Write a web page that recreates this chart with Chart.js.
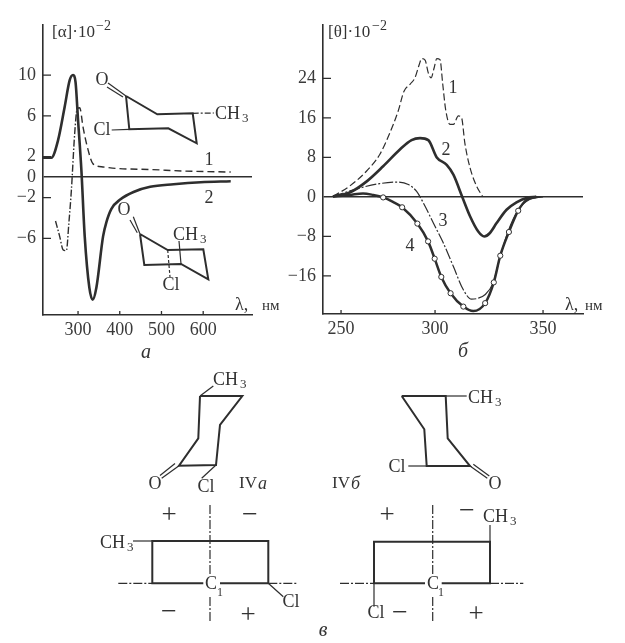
<!DOCTYPE html>
<html><head><meta charset="utf-8">
<script src="https://cdn.jsdelivr.net/npm/chart.js@4"></script>
<style>
html,body{margin:0;padding:0;background:#fff;width:625px;height:643px;overflow:hidden}
canvas{position:absolute;display:block;filter:blur(0.35px)}
</style></head><body>
<canvas id="a" width="300" height="360" style="left:0;top:0"></canvas>
<canvas id="b" width="345" height="360" style="left:280px;top:0"></canvas>
<canvas id="c" width="625" height="643" style="left:0;top:0"></canvas>
<script>
const INK='#2e2e2e';
const FONT='"Liberation Serif","DejaVu Serif",serif';

// Panel a: optical rotatory dispersion
const aTicksX=[300,400,500,600];
const aTicksY=[10,6,2,0,-2,-6];
const aCurve1Nm=[246,256,264,272,278,284,292,298,304,312,322,336,360,393,473,553,666];
const aCurve1Val=[-4.3,-5.8,-7.1,-7.2,-4.5,-1.3,4.3,6.7,6.8,4.9,3.0,1.3,1.0,0.85,0.75,0.6,0.5];
const aCurve2Nm=[216,236,252,268,280,288,294,300,308,316,327,335,344,360,368,380,401,433,473,529,594,666];
const aCurve2Val=[1.9,1.9,3.6,6.9,9.5,10,9.3,5.6,0.7,-5.8,-10.8,-12,-10.8,-5.8,-4.4,-3.1,-2.2,-1.45,-0.95,-0.7,-0.5,-0.4];

// Panel b: circular dichroism
const bTicksX=[250,300,350];
const bTicksY=[24,16,8,0,-8,-16];
const bCurve1Nm=[245.7,254.6,263.5,270.6,276,280.4,283.5,286.7,289.3,291.6,292.9,294.7,296.4,297.9,299.5,300.8,302.3,303.5,304.9,306.9,308.5,310.8,312.3,313.8,316.2,319.2,322];
const bCurve1Val=[0.1,2.2,5.2,8.6,13,17.4,21.4,22.8,24.1,26.8,28,27.7,25.1,24.1,26.1,28,27.8,23.1,17.7,14.7,14.7,16.4,16,10.9,5.9,2.2,0.1];
const bCurve2Nm=[245.7,254.6,263.5,272.4,281.3,287.5,292,296.4,300.8,305.4,308.5,312.6,316.2,320,322.8,325.4,328.5,333.1,337.7,342.3,346.9];
const bCurve2Val=[0.1,0.9,3.1,6.2,9.6,11.5,11.9,11.5,8,6.5,4.5,0,-3.9,-7,-8,-7.3,-5.3,-2.6,-1.1,-0.2,0];
const bCurve3Nm=[245.7,260,270.6,280.4,285.8,290.2,294.7,299.1,303.8,308.5,313.1,316.9,320,323.1,326.9,330,333.8,338.5,343.8,350];
const bCurve3Val=[0.1,1.8,2.7,3,2.5,1.1,-1.9,-5.3,-9.3,-14.1,-18.8,-20.7,-20.5,-19.8,-17.4,-12.4,-7,-2.6,-0.5,0];
const bCurve4Nm=[245.7,254.6,261.7,267.1,272.4,277.6,282.5,290.6,296.3,299.8,302.9,307.2,313.1,317.7,323.2,327.2,330.2,334.2,338.5,342.3,346.9];
const bCurve4Val=[0.1,0.4,0.7,0.4,-0.1,-1,-2.1,-5.4,-9,-12.5,-16.2,-19.5,-22.2,-23.1,-21.5,-17.3,-11.9,-7.1,-2.8,-0.6,0];
const bCurve4Open=[0,0,0,0,1,0,1,1,1,1,1,1,1,0,1,1,1,1,1,0,0];

function xy(xs,ys){return xs.map((x,i)=>({x:x,y:ys[i]}));}

// Axis with unequal spacing below and above 300 nm, as drawn in the figure
class WarpedScale extends Chart.LinearScale{
  warp(v){return v<300?300-(300-v)*94/50:300+(v-300)*108/50;}
  getPixelForValue(v){
    const a=this.warp(this.min),b=this.warp(this.max);
    return this.getPixelForDecimal((this.warp(v)-a)/(b-a));
  }
}
WarpedScale.id='warped';
WarpedScale.defaults=Chart.LinearScale.defaults;
Chart.register(WarpedScale);

const innerTicks={id:'innerTicks',afterDraw(chart){
  const c=chart.ctx,x=chart.scales.x,y=chart.scales.y;
  c.save();c.strokeStyle=INK;c.lineWidth=1.3;c.beginPath();
  x.ticks.forEach(t=>{const p=x.getPixelForValue(t.value);c.moveTo(p,y.bottom);c.lineTo(p,y.bottom-4);});
  y.ticks.forEach(t=>{if(t.value===0)return;const p=y.getPixelForValue(t.value);c.moveTo(x.left,p);c.lineTo(x.left+8,p);});
  c.stroke();c.restore();
}};

function plotOptions(xType,xMin,xMax,yMin,yMax,xt,yt,pad){
  const fixed=list=>s=>{s.ticks=list.map(v=>({value:v}));};
  const tickFont={family:FONT,size:18};
  return {
    responsive:false,animation:false,devicePixelRatio:1,
    layout:{padding:pad},
    plugins:{legend:{display:false},tooltip:{enabled:false},title:{display:false}},
    elements:{point:{radius:0}},
    scales:{
      x:{type:xType,min:xMin,max:xMax,afterBuildTicks:fixed(xt),afterFit(s){s.height=30;},
        grid:{drawOnChartArea:false,drawTicks:false},border:{color:INK,width:1.6},
        ticks:{font:tickFont,color:'#3a3a3a',autoSkip:false,maxRotation:0,padding:4,callback:v=>String(v)}},
      y:{type:'linear',min:yMin,max:yMax,afterBuildTicks:fixed(yt),afterFit(s){s.width=43;},
        grid:{drawTicks:false,color:c=>c.tick&&c.tick.value===0?INK:'rgba(0,0,0,0)',lineWidth:1.5},
        border:{color:INK,width:1.6},
        ticks:{font:tickFont,color:'#3a3a3a',autoSkip:false,padding:7,callback:v=>String(v).replace('-','\u2212')}}
    }
  };
}

new Chart(document.getElementById('a'),{type:'line',plugins:[innerTicks],
  data:{datasets:[
    {data:xy(aCurve2Nm,aCurve2Val),borderColor:INK,borderWidth:2.6,cubicInterpolationMode:'monotone'},
    {data:xy(aCurve1Nm,aCurve1Val),borderColor:INK,borderWidth:1.4,cubicInterpolationMode:'monotone',
      segment:{borderDash:s=>s.p0DataIndex<7?[7,2,1.5,2]:[7,4]}}
  ]},
  options:plotOptions('linear',216,717,-13.5,14.9,aTicksX,aTicksY,{top:25,right:48,bottom:15,left:0})
});

new Chart(document.getElementById('b'),{type:'line',plugins:[innerTicks],
  data:{datasets:[
    {data:xy(bCurve4Nm,bCurve4Val),borderColor:INK,borderWidth:2.5,cubicInterpolationMode:'monotone',
      pointRadius:c=>bCurve4Open[c.dataIndex]?2.6:0,pointBackgroundColor:'#fff',pointBorderColor:INK,pointBorderWidth:1},
    {data:xy(bCurve2Nm,bCurve2Val),borderColor:INK,borderWidth:2.6,cubicInterpolationMode:'monotone'},
    {data:xy(bCurve3Nm,bCurve3Val),borderColor:INK,borderWidth:1.2,cubicInterpolationMode:'monotone',
      segment:{borderDash:s=>s.p0DataIndex<12?[11,2,2,2]:[]}},
    {data:xy(bCurve1Nm,bCurve1Val),borderColor:INK,borderWidth:1.2,cubicInterpolationMode:'monotone',borderDash:[7,3]}
  ]},
  options:plotOptions('warped',240.4,368.5,-23.7,34.8,bTicksX,bTicksY,{top:25,right:42,bottom:16,left:0})
});

// Structural formulae and captions, on a scale that follows the page
const THICK=2,THIN=1.2,DD=[9,2,2,2];
const bonds=[
  // panel a, upper structure
  {p:[[126,96],[129.3,129.3],[168.3,128.3],[196.7,143.3],[192.7,113.3],[157.3,114.3],[126,96]],w:THICK},
  {p:[[108,83],[126,96]],w:THIN},{p:[[107,87],[123,97]],w:THIN},
  {p:[[111.7,130],[129.3,129.3]],w:THIN},
  {p:[[192.7,113.3],[214,113]],w:THIN,d:[6,2,2,2]},
  // panel a, lower structure
  {p:[[140,234],[144.3,265],[181,264],[208.3,279.3],[203.3,249.3],[167.7,250],[140,234]],w:THICK},
  {p:[[133.3,216.7],[140,234]],w:THIN},{p:[[130,220],[137.3,232.7]],w:THIN},
  {p:[[167.7,250],[170,277]],w:THIN,d:[3,2]},
  {p:[[181,264],[179,241]],w:THIN},
  // IVa
  {p:[[200,396],[242.3,396],[220,425],[216,465],[179,465.7],[198.3,438.3],[200,396]],w:THICK},
  {p:[[213.3,386],[200,396]],w:THIN},
  {p:[[179,465.7],[161.7,478.3]],w:THIN},{p:[[175,463.5],[160,475.5]],w:THIN},
  {p:[[216,465],[201.7,478.3]],w:THIN},
  // IVb
  {p:[[401.7,396],[445.7,396],[447.7,438.3],[470,466],[426.7,466],[424.3,429.3],[401.7,396]],w:THICK},
  {p:[[445.7,396],[466.7,396]],w:THIN},
  {p:[[408.3,466],[426.7,466]],w:THIN},
  {p:[[470,466],[487.3,478.3]],w:THIN},{p:[[473.3,464.3],[489.3,476]],w:THIN},
  // left projection
  {p:[[203.3,583.3],[152.3,583.3],[152.3,541],[268.3,541],[268.3,583.3],[220,583.3]],w:THICK},
  {p:[[133,541],[152.3,541]],w:THIN},
  {p:[[268.3,583.3],[283.3,596.7]],w:THIN},
  {p:[[210,505],[210,575]],w:THIN,d:DD},{p:[[210,597],[210,622]],w:THIN,d:DD},
  {p:[[118.3,583.3],[152,583.3]],w:THIN,d:DD},{p:[[268.3,583.3],[297.3,583.3]],w:THIN,d:DD},
  // right projection
  {p:[[425,583.3],[374,583.3],[374,541.7],[490,541.7],[490,583.3],[441.7,583.3]],w:THICK},
  {p:[[490,541.7],[490,525]],w:THIN},
  {p:[[374,583.3],[374,606.7]],w:THIN},
  {p:[[432.7,505],[432.7,575]],w:THIN,d:DD},{p:[[432.7,597],[432.7,621]],w:THIN,d:DD},
  {p:[[340,583.3],[374,583.3]],w:THIN,d:DD},{p:[[490,583.3],[523.3,583.3]],w:THIN,d:DD}
];
// text, x, y, size, align, style
const captions=[
  ['[\u03b1]\u00b710',52,33,17,'left'],['\u22122',96,26,14,'left'],
  ['\u03bb,',235,305,18,'left'],['\u043d\u043c',262,306,15,'left'],['a',146,353,20,'center','italic'],
  ['O',102,80,18],['Cl',102,130,18],['CH',215,114,18,'left'],['3',242,119,13,'left'],
  ['O',124,210,18],['CH',173,235,18,'left'],['3',200,240,13,'left'],['Cl',171,285,18],
  ['1',209,160,18],['2',209,198,18],
  ['[\u03b8]\u00b710',328,33,17,'left'],['\u22122',372,26,14,'left'],
  ['\u03bb,',565,305,18,'left'],['\u043d\u043c',585,306,15,'left'],['\u0431',463,352,20,'center','italic'],
  ['1',453,88,18],['2',446,150,18],['3',443,221,18],['4',410,246,18],
  ['CH',213,380,18,'left'],['3',240,385,13,'left'],['O',155,484,18],['Cl',206,487,18],
  ['IV',239,484,17,'left'],['a',258,484,18,'left','italic'],
  ['CH',468,398,18,'left'],['3',495,403,13,'left'],['Cl',397,467,18],['O',495,484,18],
  ['IV',332,484,17,'left'],['\u0431',351,484,18,'left','italic'],
  ['+',169,516,27],['\u2212',250,516,28],['\u2212',169,613,28],['+',248,616,27],
  ['CH',100,543,18,'left'],['3',127,548,13,'left'],['C',211,584,18],['1',220,593,12],['Cl',291,602,18],
  ['+',387,516,27],['\u2212',467,512,28],['CH',483,517,18,'left'],['3',510,522,13,'left'],
  ['C',433,584,18],['1',441,593,12],['Cl',376,613,18],['\u2212',400,614,28],['+',476,615,27],
  ['\u0432',323,631,20,'center','italic']
];
const captionPlugin={id:'captions',afterDatasetsDraw(chart){
  const c=chart.ctx,x=chart.scales.x,y=chart.scales.y;
  c.save();c.fillStyle='#333';c.textBaseline='middle';
  captions.forEach(([t,px,py,size,al,st])=>{
    c.font=(st?st+' ':'')+size+'px '+FONT;c.textAlign=al||'center';
    c.fillText(t,x.getPixelForValue(px),y.getPixelForValue(py));
  });
  c.restore();
}};
new Chart(document.getElementById('c'),{type:'scatter',plugins:[captionPlugin],
  data:{datasets:bonds.map(b=>({data:b.p.map(q=>({x:q[0],y:q[1]})),showLine:true,borderColor:INK,
    borderWidth:b.w,borderDash:b.d||[],pointRadius:0,tension:0,borderJoinStyle:'miter'}))},
  options:{responsive:false,animation:false,devicePixelRatio:1,layout:{padding:0},
    plugins:{legend:{display:false},tooltip:{enabled:false}},
    scales:{x:{type:'linear',min:0,max:625,display:false},y:{type:'linear',min:0,max:643,reverse:true,display:false}}}
});
</script>
</body></html>
